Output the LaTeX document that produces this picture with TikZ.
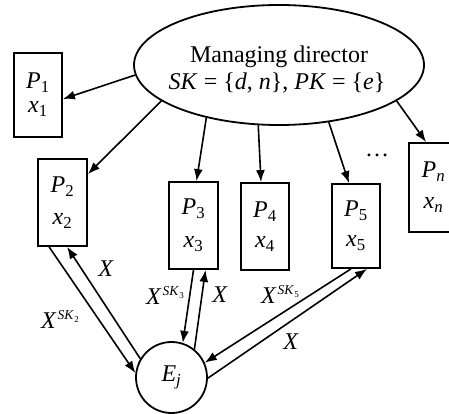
\documentclass[tikz,border=0pt]{standalone}
\usepackage{amsmath}
\usepackage{fontspec}
\setmainfont{Liberation Serif}
\usetikzlibrary{shapes.geometric,arrows.meta,calc}
\newcommand{\vm}[2]{$\textit{#1}_{\textrm{#2}}$}
\newcommand{\vmi}[2]{$\textit{#1}_{\textit{#2}}$}
\newcommand{\xsk}[1]{\textit{X}\kern1pt\raisebox{8.5pt}{\fontsize{13.5}{13.5}\selectfont\textit{SK}\kern0.3pt\raisebox{-2.5pt}{\fontsize{9}{9}\selectfont #1}}}
\begin{document}
\begin{tikzpicture}[x=1pt,y=-1pt,
  box/.style={draw, line width=1.8pt, inner sep=0pt, minimum width=48pt, minimum height=86pt, align=center, font=\fontsize{24}{24}\selectfont},
  arr/.style={line width=1.6pt, -{Latex[length=12pt,width=9pt]}},
  lbl/.style={font=\fontsize{24}{24}\selectfont, inner sep=0pt, anchor=base}]
\useasboundingbox (0,0) rectangle (449,414);
\clip (0,0) rectangle (449,414);
% managing director
\node[draw, ellipse, line width=1.8pt, minimum width=290pt, minimum height=120pt, inner sep=0pt] (M) at (279,65) {};
\node[lbl] (Mt1) at (279,63) {Managing director};
\node[lbl] (Mt2) at (277,90) {\textit{SK} = \{\textit{d}, \textit{n}\}, \textit{PK} = \{\textit{e}\}};
% participants
\node[box, minimum height=84pt] (P1) at (38,95) {\vm{P}{1}\\[0pt]\vm{x}{1}};
\node[box, minimum width=49pt, minimum height=87pt] (P2) at (62.5,202.5) {\vm{P}{2}\\[8pt]\vm{x}{2}};
\node[box, minimum width=49pt, minimum height=87pt] (P3) at (193.5,225.5) {\vm{P}{3}\\[9pt]\vm{x}{3}};
\node[box, minimum height=87pt] (P4) at (265,226.5) {\vm{P}{4}\\[6pt]\vm{x}{4}};
\node[box, minimum height=84pt] (P5) at (356,226) {\vm{P}{5}\\[6pt]\vm{x}{5}};
\node[box, minimum width=49pt, minimum height=89pt] (Pn) at (433.5,187.5) {\vmi{P}{n}\\[7pt]\vmi{x}{n}};
\node[lbl] (dots) at (377,157) {…};
% E_j
\node[draw, circle, line width=1.8pt, minimum size=71pt, inner sep=0pt, font=\fontsize{24}{24}\selectfont] (E) at (171.5,377.5) {\vmi{E}{j}};
% director arrows
\draw[arr] (M.184.8) -- ($(P1.east)+(0,4)$);
\draw[arr] (M.197) -- ($(P2.north east)+(0,16)$);
\draw[arr] (M.216.6) -- ($(P3.north)+(3,0)$);
\draw[arr] (M.251.6) -- ($(P4.north)+(-4,0)$);
\draw[arr] (M.311.9) -- ($(P5.north)+(-7,0)$);
\draw[arr] (M.343.2) -- ($(Pn.north west)+(18,0)$);
% exchange arrows
\draw[arr] ($(P2.south west)+(12,0)$) -- (E.173);
\draw[arr] (E.149) -- ($(P2.south west)+(30,0)$);
\draw[arr] (P3.south) -- (E.72);
\draw[arr] (E.51.5) -- ($(P3.south)+(12,0)$);
\draw[arr] ($(P5.south)+(-5,0)$) -- (E.24);
\draw[arr] (E.359) -- ($(P5.south)+(11,0)$);
% labels
\node[lbl] (l1) at (106,276) {\textit{X}};
\node[lbl] (l2) at (60,328) {\xsk{2}};
\node[lbl] (l3) at (165,304) {\xsk{3}};
\node[lbl] (l4) at (220,302) {\textit{X}};
\node[lbl] (l5) at (280,303) {\xsk{5}};
\node[lbl] (l6) at (291,349) {\textit{X}};
\end{tikzpicture}
\end{document}
